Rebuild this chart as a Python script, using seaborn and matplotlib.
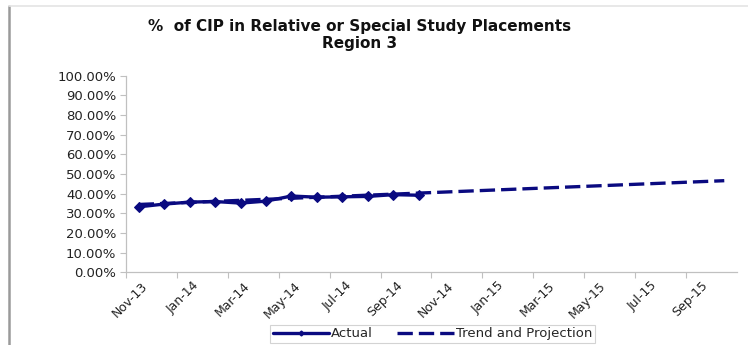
import matplotlib
matplotlib.use("Agg")
import matplotlib.pyplot as plt
from matplotlib.lines import Line2D
import seaborn as sns
import pandas as pd

months = ["Nov-13", "Dec-13", "Jan-14", "Feb-14", "Mar-14", "Apr-14", "May-14", "Jun-14",
          "Jul-14", "Aug-14", "Sep-14", "Oct-14", "Nov-14", "Dec-14", "Jan-15", "Feb-15",
          "Mar-15", "Apr-15", "May-15", "Jun-15", "Jul-15", "Aug-15", "Sep-15", "Oct-15"]
actual_months = months[:12]
actual_values = [33.3, 34.7, 35.7, 36.0, 35.2, 36.2, 38.8, 38.2, 38.4, 38.6, 39.5, 39.2]
trend_months = ["Nov-13", "Oct-15"]
trend_values = [34.5, 46.6]
title_lines = ["%  of CIP in Relative or Special Study Placements", "Region 3"]
y_ticks = [0, 10, 20, 30, 40, 50, 60, 70, 80, 90, 100]

navy = "#0a0a80"

sns.set_theme(style="white")
plt.rcParams["font.family"] = ["DejaVu Sans"]

fig = plt.figure(figsize=(7.48, 3.45), dpi=100)
ax = fig.add_axes([0.1684, 0.2107, 0.8169, 0.5699])

pos = {m: i + 0.5 for i, m in enumerate(months)}
df_act = pd.DataFrame({"x": [pos[m] for m in actual_months], "y": actual_values})
df_tr = pd.DataFrame({"x": [pos[m] for m in trend_months], "y": trend_values})

sns.lineplot(data=df_tr, x="x", y="y", ax=ax, color=navy, lw=2.4,
             linestyle=(0, (4.6, 1.8)), zorder=2)
sns.lineplot(data=df_act, x="x", y="y", ax=ax, color=navy, lw=2.4,
             marker="D", markersize=5.5, markeredgecolor=navy, zorder=3)

ax.set_xlim(0, len(months))
ax.set_ylim(0, 100)
ax.set_xticks(range(0, len(months), 2))
ax.set_xticklabels([])
for i in range(0, len(months), 2):
    ax.text(pos[months[i]] + 0.1, -3.5, months[i], rotation=45, ha="right", va="top",
            rotation_mode="anchor", fontsize=9, color="#222222")
ax.set_yticks(y_ticks)
ax.set_yticklabels([f"{v:.2f}%" for v in y_ticks], fontsize=9.5, color="#222222")
ax.set_xlabel("")
ax.set_ylabel("")
ax.tick_params(axis="both", which="major", direction="out", length=4, width=0.8,
               color="#c0c0c0", bottom=True, left=True, pad=3)
for s in ["top", "right"]:
    ax.spines[s].set_visible(False)
for s in ["left", "bottom"]:
    ax.spines[s].set_color("#c0c0c0")
    ax.spines[s].set_linewidth(0.9)

fig.text(0.481, 0.922, title_lines[0], ha="center", va="center", fontsize=11,
         fontweight="bold", color="#111111")
fig.text(0.481, 0.873, title_lines[1], ha="center", va="center", fontsize=11,
         fontweight="bold", color="#111111")

handles = [Line2D([], [], color=navy, lw=2.4, marker="D", markersize=2.5),
           Line2D([], [], color=navy, lw=2.4, linestyle=(0, (4.6, 1.8)))]
leg = fig.legend(handles, ["Actual", "Trend and Projection"], loc="center",
                 bbox_to_anchor=(0.578, 0.032), ncol=2, fontsize=9.5, frameon=True,
                 fancybox=False, handlelength=4.3, columnspacing=1.8, borderpad=0.2,
                 handletextpad=0.15)
leg.get_frame().set_edgecolor("#c8c8c8")
leg.get_frame().set_linewidth(0.8)

fig.add_artist(Line2D([0.012, 0.012], [0.0, 0.983], transform=fig.transFigure,
                      color="#9a9a9a", lw=1.8))
fig.add_artist(Line2D([0.012, 1.0], [0.983, 0.983], transform=fig.transFigure,
                      color="#e4e4e4", lw=1.2))

fig.savefig("out.png", dpi=100)
